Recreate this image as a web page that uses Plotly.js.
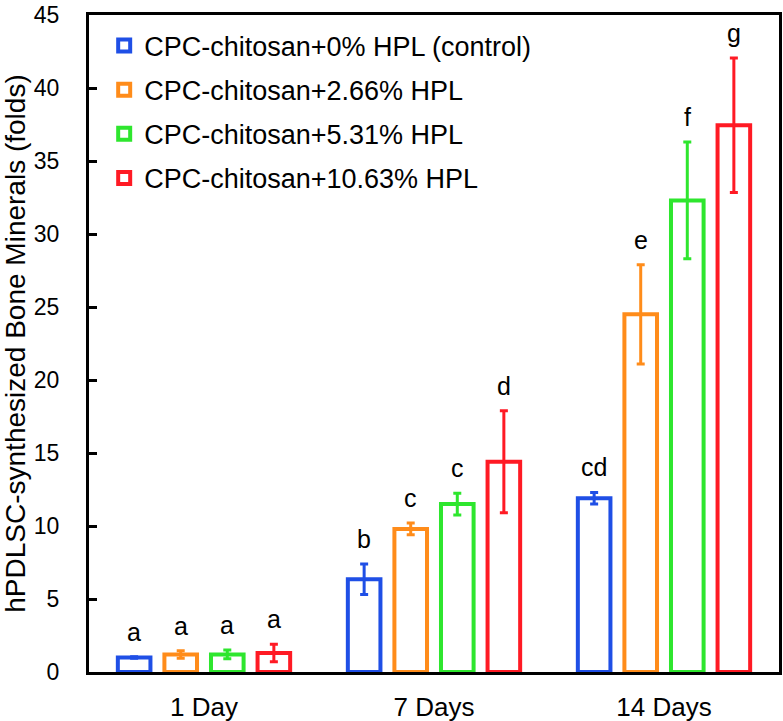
<!DOCTYPE html>
<html>
<head>
<meta charset="utf-8">
<script src="https://cdn.plot.ly/plotly-3.0.1.min.js"></script>
<style>
  html, body { margin: 0; padding: 0; background: #fff; }
  #chart { width: 783px; height: 721px; }
</style>
</head>
<body>
<div id="chart"></div>
<script>
// data
const days = ['1 Day', '7 Days', '14 Days'];
const groupNames = [
    'CPC-chitosan+0% HPL (control)',
    'CPC-chitosan+2.66% HPL',
    'CPC-chitosan+5.31% HPL',
    'CPC-chitosan+10.63% HPL'
];
const control = [1.0, 6.35, 11.9];
const hpl266 = [1.2, 9.8, 24.5];
const hpl531 = [1.2, 11.5, 32.3];
const hpl1063 = [1.3, 14.4, 37.45];
const controlErr = [0.05, 1.05, 0.4];
const hpl266Err = [0.25, 0.4, 3.4];
const hpl531Err = [0.3, 0.75, 4.0];
const hpl1063Err = [0.6, 3.5, 4.6];
const letters = [
    ['a', 'b', 'cd'],
    ['a', 'c', 'e'],
    ['a', 'c', 'f'],
    ['a', 'd', 'g']
];

const colors = ['#1f4fe6', '#ff8c1a', '#2ee62e', '#ff1a24'];
const font = 'Liberation Sans, Arial, sans-serif';
const bargap = 0.19;

const values = [control, hpl266, hpl531, hpl1063];
const errors = [controlErr, hpl266Err, hpl531Err, hpl1063Err];

const traces = values.map((v, j) => ({
    type: 'bar',
    name: groupNames[j],
    legendgroup: 'g' + j,
    x: days,
    y: v,
    marker: { color: '#ffffff', line: { color: colors[j], width: 4 } },
    error_y: { type: 'data', array: errors[j], visible: true,
               color: colors[j], thickness: 3, width: 4 },
    hoverinfo: 'skip'
}));

// significance letters above each error bar
const slot = (1 - bargap) / values.length;
const annotations = [];
values.forEach((v, j) => {
    v.forEach((val, i) => {
        annotations.push({
            xref: 'x', yref: 'y',
            x: i + (j - (values.length - 1) / 2) * slot,
            y: val + errors[j][i],
            text: letters[j][i],
            showarrow: false,
            yanchor: 'bottom',
            yshift: 9,
            font: { family: font, size: 25, color: '#000' }
        });
    });
});

const layout = {
    width: 783,
    height: 721,
    margin: { l: 89, r: 4, t: 15, b: 49 },
    paper_bgcolor: '#fff',
    plot_bgcolor: '#fff',
    barmode: 'group',
    bargap: bargap,
    bargroupgap: 0.3,
    showlegend: true,
    legend: {
        x: 0.022, y: 0.99, xanchor: 'left', yanchor: 'top',
        bgcolor: 'rgba(0,0,0,0)',
        font: { family: font, size: 27, color: '#000' },
        tracegroupgap: 6,
        itemwidth: 30
    },
    xaxis: {
        type: 'category',
        showline: true, linecolor: '#000', linewidth: 3, mirror: true,
        ticks: '', showgrid: false, zeroline: false,
        ticklabelstandoff: 10,
        tickfont: { family: font, size: 26, color: '#000' }
    },
    yaxis: {
        range: [0, 45],
        dtick: 5,
        showline: true, linecolor: '#000', linewidth: 3, mirror: true,
        ticks: 'inside', ticklen: 8, tickwidth: 3, tickcolor: '#000',
        showgrid: false, zeroline: false,
        ticklabelstandoff: 22,
        ticklabeloverflow: 'allow',
        tickfont: { family: font, size: 23, color: '#000' },
        title: {
            text: 'hPDLSC-synthesized Bone Minerals (folds)',
            font: { family: font, size: 28, color: '#000' },
            standoff: 2
        }
    },
    annotations: annotations
};

Plotly.newPlot('chart', traces, layout, { staticPlot: true });
</script>
</body>
</html>
